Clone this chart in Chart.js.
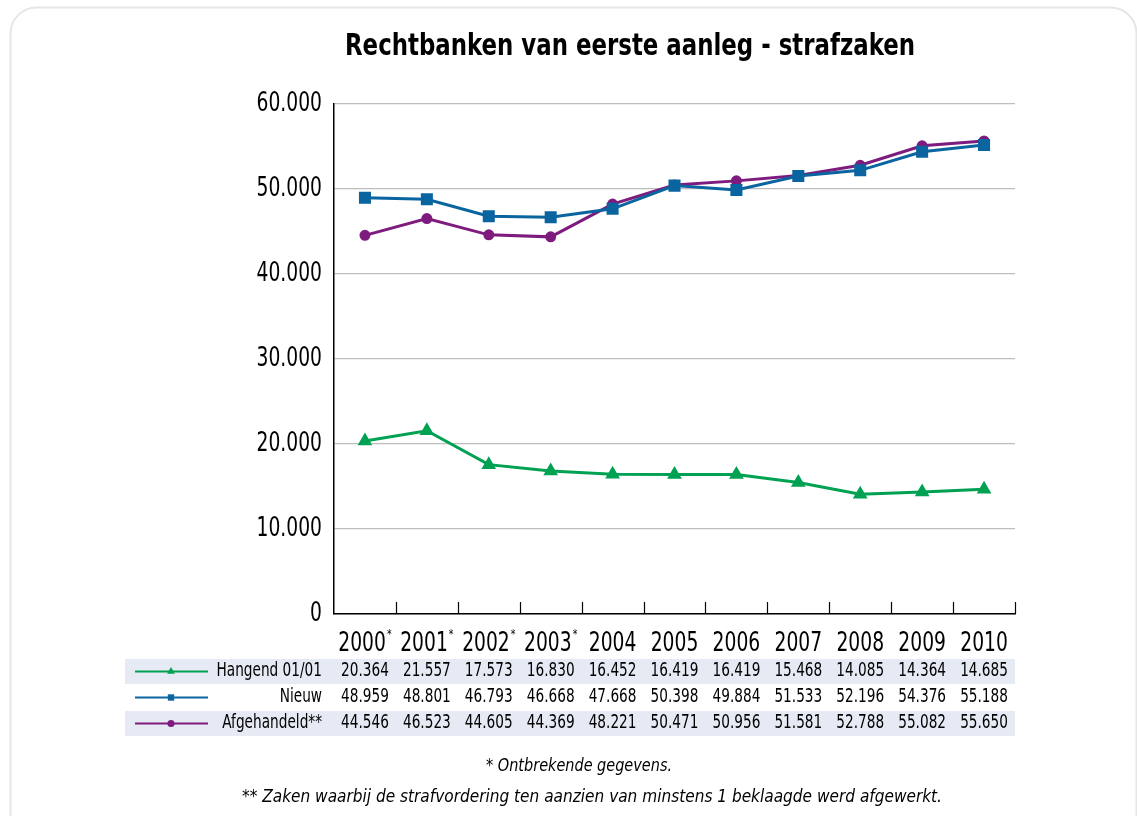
<!DOCTYPE html>
<html>
<head>
<meta charset="utf-8">
<script src="https://cdn.jsdelivr.net/npm/chart.js@4.4.1/dist/chart.umd.min.js"></script>
<style>
  html, body { margin: 0; padding: 0; background: #fff; }
  #wrap { width: 1137px; height: 816px; position: relative; }
</style>
</head>
<body>
<div id="wrap"><canvas id="grafiek"></canvas></div>
<script>
// Gegevens
const jaren = ["2000", "2001", "2002", "2003", "2004", "2005", "2006", "2007", "2008", "2009", "2010"];
const jaarNoot = ["*", "*", "*", "*", "", "", "", "", "", "", ""];
const hangend = [20364, 21557, 17573, 16830, 16452, 16419, 16419, 15468, 14085, 14364, 14685];
const nieuw = [48959, 48801, 46793, 46668, 47668, 50398, 49884, 51533, 52196, 54376, 55188];
const afgehandeld = [44546, 46523, 44605, 44369, 48221, 50471, 50956, 51581, 52788, 55082, 55650];
const reeksNamen = ["Hangend 01/01", "Nieuw", "Afgehandeld**"];
const yTicks = [0, 10000, 20000, 30000, 40000, 50000, 60000];

const titel = "Rechtbanken van eerste aanleg - strafzaken";
const noot1 = "* Ontbrekende gegevens.";
const noot2 = "** Zaken waarbij de strafvordering ten aanzien van minstens 1 beklaagde werd afgewerkt.";

const FONT = '"DejaVu Sans Condensed", "Liberation Sans Narrow", sans-serif';
const SMAL = 0.8; // horizontale versmalling van de tekst
const KLEUREN = ["#00a152", "#0a64a0", "#7e1b7e"];
const PUNTEN = ["triangle", "rect", "circle"];
const RIJ_BG = "#e6eaf4";

function formatNL(v) {
  return v.toLocaleString("nl-BE");
}

// tekst tekenen met horizontale schaal (smalle letter)
function tekst(ctx, s, x, y, align, sx) {
  const w = ctx.measureText(s).width * sx;
  let links = x;
  if (align === "center") links = x - w / 2;
  if (align === "right") links = x - w;
  ctx.save();
  ctx.textAlign = "left";
  ctx.translate(links, y);
  ctx.scale(sx, 1);
  ctx.fillText(s, 0, 0);
  ctx.restore();
  return w;
}

// tekst passend maken op een gegeven breedte
function tekstBreedte(ctx, s, cx, y, breedte) {
  const sx = breedte / ctx.measureText(s).width;
  tekst(ctx, s, cx, y, "center", sx);
}

// Tekenen van kader, titel, aslabels, tabel en voetnoten
const extraPlugin = {
  id: "extra",
  beforeDraw(chart) {
    const ctx = chart.ctx;
    ctx.save();
    ctx.fillStyle = "#fff";
    ctx.fillRect(0, 0, chart.width, chart.height);
    // afgerond kader
    ctx.strokeStyle = "#e6e6e6";
    ctx.lineWidth = 2;
    ctx.beginPath();
    ctx.roundRect(10.5, 7.5, 1126, 840, 26);
    ctx.stroke();
    // rijachtergronden van de tabel
    ctx.fillStyle = RIJ_BG;
    ctx.fillRect(125, 659, 890, 25);
    ctx.fillRect(125, 711, 890, 25);
    ctx.restore();
  },
  afterDraw(chart) {
    const ctx = chart.ctx;
    const x = chart.scales.x;
    const y = chart.scales.y;
    const area = chart.chartArea;
    ctx.save();
    ctx.fillStyle = "#000";
    ctx.textBaseline = "alphabetic";

    // titel
    ctx.font = "bold 30px " + FONT;
    tekstBreedte(ctx, titel, 630, 55, 570);

    // y-aslabels
    ctx.font = "26px " + FONT;
    ctx.textBaseline = "middle";
    yTicks.forEach((v) => {
      tekst(ctx, formatNL(v), 322, y.getPixelForValue(v), "right", SMAL);
    });
    ctx.textBaseline = "alphabetic";

    // korte streepjes op de x-as tussen de categorieën
    ctx.strokeStyle = "#000";
    ctx.lineWidth = 1.2;
    for (let i = 0; i < jaren.length; i++) {
      const xb = i < jaren.length - 1
        ? (x.getPixelForValue(i) + x.getPixelForValue(i + 1)) / 2
        : area.right;
      ctx.beginPath();
      ctx.moveTo(Math.round(xb) + 0.5, area.bottom);
      ctx.lineTo(Math.round(xb) + 0.5, area.bottom - 12);
      ctx.stroke();
    }

    // jaartallen met asterisk in superscript
    jaren.forEach((jaar, i) => {
      const cx = x.getPixelForValue(i);
      ctx.font = "26px " + FONT;
      const wj = ctx.measureText(jaar).width * SMAL;
      ctx.font = "13px " + FONT;
      const wn = jaarNoot[i] ? ctx.measureText(jaarNoot[i]).width * SMAL + 1 : 0;
      const start = cx - (wj + wn) / 2;
      ctx.font = "26px " + FONT;
      tekst(ctx, jaar, start, 651, "left", SMAL);
      if (jaarNoot[i]) {
        ctx.font = "13px " + FONT;
        tekst(ctx, jaarNoot[i], start + wj + 1, 638, "left", SMAL);
      }
    });

    // gegevenstabel
    const reeksen = [hangend, nieuw, afgehandeld];
    reeksen.forEach((reeks, r) => {
      const cy = 671.5 + r * 26;
      // legendelijn
      ctx.strokeStyle = KLEUREN[r];
      ctx.lineWidth = 2;
      ctx.beginPath();
      ctx.moveTo(135, cy);
      ctx.lineTo(208, cy);
      ctx.stroke();
      ctx.fillStyle = KLEUREN[r];
      Chart.helpers.drawPoint(ctx, { pointStyle: PUNTEN[r], radius: r === 2 ? 3.6 : 4.5, rotation: 0 }, 171, cy);
      // naam en waarden
      ctx.fillStyle = "#000";
      ctx.font = "19px " + FONT;
      ctx.textBaseline = "middle";
      tekst(ctx, reeksNamen[r], 322, cy, "right", SMAL);
      reeks.forEach((v, i) => {
        tekst(ctx, formatNL(v), x.getPixelForValue(i), cy, "center", SMAL);
      });
    });

    // voetnoten
    ctx.font = "italic 17px " + FONT;
    ctx.textBaseline = "alphabetic";
    tekstBreedte(ctx, noot1, 579, 771, 186);
    tekstBreedte(ctx, noot2, 592, 802, 700);

    ctx.restore();
  },
};

const contexto = document.getElementById("grafiek");

new Chart(contexto, {
  type: "line",
  data: {
    labels: jaren,
    datasets: [
      {
        label: reeksNamen[0],
        data: hangend,
        borderColor: KLEUREN[0],
        backgroundColor: KLEUREN[0],
        borderWidth: 3,
        pointStyle: "triangle",
        pointRadius: 5.5,
        tension: 0,
      },
      {
        label: reeksNamen[1],
        data: nieuw,
        borderColor: KLEUREN[1],
        backgroundColor: KLEUREN[1],
        borderWidth: 3,
        pointStyle: "rect",
        pointRadius: 6.4,
        tension: 0,
      },
      {
        label: reeksNamen[2],
        data: afgehandeld,
        borderColor: KLEUREN[2],
        backgroundColor: KLEUREN[2],
        borderWidth: 3,
        pointStyle: "circle",
        pointRadius: 4,
        tension: 0,
      },
    ],
  },
  options: {
    responsive: true,
    maintainAspectRatio: false,
    animation: false,
    layout: {
      padding: { top: 104, right: 122, left: 0, bottom: 0 },
    },
    plugins: {
      legend: { display: false },
      title: { display: false },
      tooltip: { enabled: false },
    },
    scales: {
      x: {
        offset: true,
        grid: { display: false },
        border: { display: true, color: "#000", width: 1.5 },
        ticks: { display: false },
        afterFit: (scale) => { scale.height = 202; },
      },
      y: {
        min: 0,
        max: 60000,
        afterBuildTicks: (scale) => {
          scale.ticks = yTicks.map((v) => ({ value: v }));
        },
        grid: { color: "#bdbdbd", lineWidth: 1.3, drawTicks: false },
        border: { display: true, color: "#000", width: 1.5 },
        ticks: { display: false },
        afterFit: (scale) => { scale.width = 334; },
      },
    },
  },
  plugins: [extraPlugin],
});
</script>
</body>
</html>
